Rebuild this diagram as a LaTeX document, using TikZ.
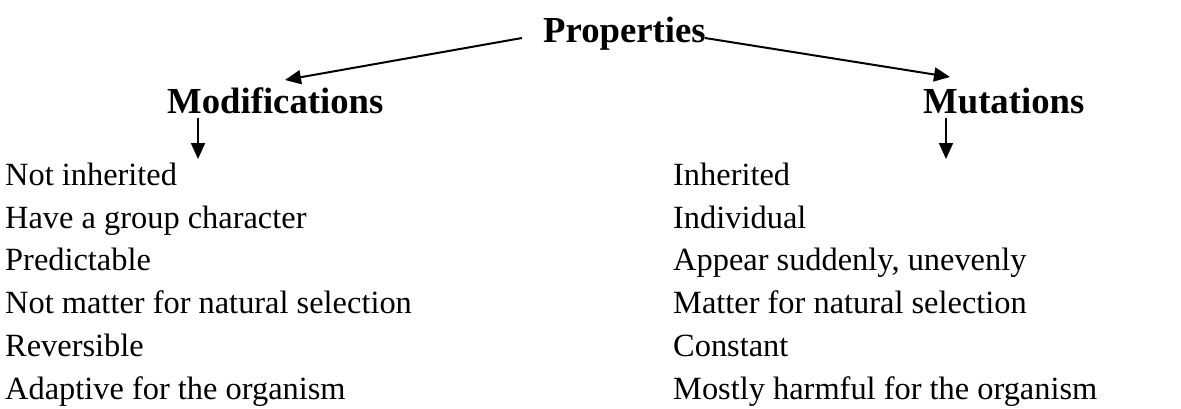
\documentclass[tikz,border=0pt]{standalone}
\usepackage{fontspec}
\setmainfont{Liberation Serif}
\usetikzlibrary{arrows.meta}
\begin{document}
\begin{tikzpicture}[x=1pt,y=-1pt,
  head/.style={anchor=base west,inner sep=0pt,font=\fontsize{36.7}{44}\selectfont\bfseries},
  item/.style={anchor=base west,inner sep=0pt,font=\fontsize{32.4}{40}\selectfont},
  conn/.style={line width=2pt,-{Triangle[length=16pt,width=14pt]}}]
\useasboundingbox (0,0) rectangle (1181,408);
\node[head] (props) at (543,42) {Properties};
\node[head] (mods) at (167,113) {Modifications};
\node[head] (muts) at (923,113) {Mutations};
\coordinate (pL) at (522,38);
\coordinate (pR) at (705,38);
\coordinate (modTip) at (285,80);
\coordinate (mutTip) at (950,77);
\coordinate (modTop) at (198,118);
\coordinate (modBot) at (198,159);
\coordinate (mutTop) at (946,118);
\coordinate (mutBot) at (946,159);
\draw[conn] (pL) -- (modTip);
\draw[conn] (pR) -- (mutTip);
\draw[conn] (modTop) -- (modBot);
\draw[conn] (mutTop) -- (mutBot);
\node[item] (l1) at (5,185.5) {Not inherited};
\node[item] (l2) at (5,228.2) {Have a group character};
\node[item] (l3) at (5,270.9) {Predictable};
\node[item] (l4) at (5,313.6) {Not matter for natural selection};
\node[item] (l5) at (5,356.3) {Reversible};
\node[item] (l6) at (5,399) {Adaptive for the organism};
\node[item] (r1) at (673,185.5) {Inherited};
\node[item] (r2) at (673,228.2) {Individual};
\node[item] (r3) at (673,270.9) {Appear suddenly, unevenly};
\node[item] (r4) at (673,313.6) {Matter for natural selection};
\node[item] (r5) at (673,356.3) {Constant};
\node[item] (r6) at (673,399) {Mostly harmful for the organism};
\end{tikzpicture}
\end{document}
